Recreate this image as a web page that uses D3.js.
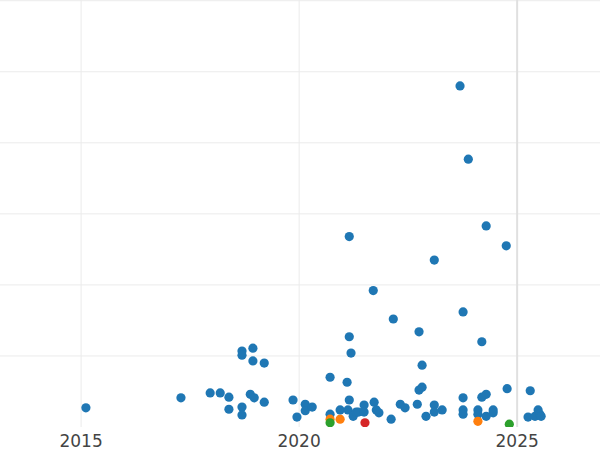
<!DOCTYPE html><html><head><meta charset="utf-8"><script src="https://cdn.jsdelivr.net/npm/d3@7"></script>
<style>body{margin:0;background:#fff}</style></head><body><svg id="c" width="600" height="450"></svg><script>
const years=[2015.11,2017.29,2017.96,2018.19,2018.39,2018.39,2018.69,2018.69,2018.69,2018.69,2018.88,2018.94,2018.94,2018.97,2019.2,2019.2,2019.86,2019.95,2020.14,2020.14,2020.3,2020.71,2020.71,2020.71,2020.71,2020.94,2020.94,2021.1,2021.12,2021.15,2021.15,2021.15,2021.19,2021.24,2021.31,2021.36,2021.49,2021.49,2021.51,2021.7,2021.72,2021.77,2021.83,2022.11,2022.16,2022.32,2022.43,2022.71,2022.75,2022.75,2022.82,2022.82,2022.91,2023.1,2023.1,2023.1,2023.28,2023.69,2023.76,2023.76,2023.76,2023.76,2023.88,2024.1,2024.1,2024.1,2024.19,2024.19,2024.29,2024.29,2024.29,2024.45,2024.45,2024.75,2024.77,2024.82,2025.3,2025.25,2025.41,2025.48,2025.52,2025.55];
const values=[27,41,48,48,42,25,107,101,28,17,46,111,93,41,90,35,38,14,32,23,28,70,18,11,6,11,24,63,24,268,127,38,104,15,21,21,31,21,6,192,35,24,20,11,152,32,27,32,134,52,56,87,15,235,31,21,24,480,162,41,24,18,377,24,18,8,120,42,283,46,15,24,20,255,54,4,51,14,15,24,18,15];
const groups=["b","b","b","b","b","b","b","b","b","b","b","b","b","b","b","b","b","b","b","b","b","b","b","o","g","o","b","b","b","b","b","b","b","b","b","b","b","b","r","b","b","b","b","b","b","b","b","b","b","b","b","b","b","b","b","b","b","b","b","b","b","b","b","b","b","o","b","b","b","b","b","b","b","b","b","g","b","b","b","b","b","b"];
const xTicks=[2015,2020,2025];
const yTicks=[100,200,300,400,500,600];
const colors={b:"#1f77b4",o:"#ff7f0e",g:"#2ca02c",r:"#d62728"};
const svg=d3.select("#c");
const x=d3.scaleLinear().domain([2013.14,2026.9]).range([0,600]);
const y=d3.scaleLinear().domain([0,601]).range([427,0]);
svg.append("defs").append("clipPath").attr("id","cp").append("rect").attr("x",0).attr("y",0).attr("width",600).attr("height",427);
svg.append("g").selectAll("line").data(yTicks).join("line").attr("x1",0).attr("x2",600).attr("y1",d=>y(d)).attr("y2",d=>y(d)).attr("stroke","#ebebeb");
svg.append("g").selectAll("line").data(xTicks).join("line").attr("y1",0).attr("y2",427).attr("x1",d=>x(d)).attr("x2",d=>x(d)).attr("stroke",d=>d===2025?"#e0e0e0":"#ebebeb").attr("stroke-width",d=>d===2025?2:1);
svg.append("g").attr("clip-path","url(#cp)").selectAll("circle").data(years.map((d,i)=>({x:d,v:values[i],g:groups[i]}))).join("circle")
 .attr("cx",d=>x(d.x)).attr("cy",d=>y(d.v)).attr("r",4.6).attr("fill",d=>colors[d.g]);
svg.append("g").selectAll("text").data(xTicks).join("text").attr("x",d=>x(d)).attr("y",447).attr("text-anchor","middle")
 .attr("font-family","DejaVu Sans").attr("font-size",17).attr("fill","#444").text(d=>d);
</script></body></html>
